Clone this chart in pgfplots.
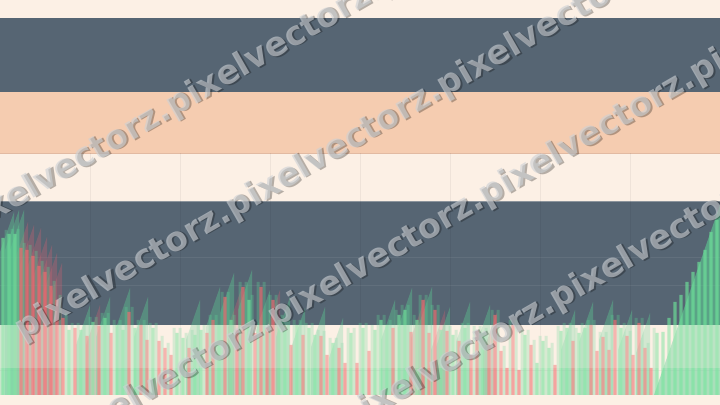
\documentclass[border=0pt]{standalone}
\usepackage{pgfplots}
\pgfplotsset{compat=1.18}
\usepackage{fontspec}
\newfontfamily\wmfont{DejaVu Sans}
\definecolor{cream}{HTML}{FCF0E5}
\definecolor{slate}{HTML}{566573}
\definecolor{peach}{HTML}{F5CCB0}
\definecolor{peachline}{HTML}{E2BAA2}
\definecolor{slateline}{HTML}{8C949C}
\definecolor{gbar}{HTML}{6EE39A}
\definecolor{rbar}{HTML}{F07070}
\definecolor{gspk}{HTML}{5ED195}
\definecolor{rspk}{HTML}{D06070}
\definecolor{wmc}{HTML}{CDD1D5}
\newcommand\wmtext{pixelvectorz.pixelvectorz.pixelvectorz.pixelvectorz.pixelvectorz.}
\newcommand\wmline[2]{%
  \node[rotate=30, anchor=west, inner sep=0pt, text=black, text opacity=0.28, xshift=1.6bp, yshift=-1.6bp]
    at (axis cs:#1,#2) {\wmfont\bfseries\fontsize{33.5bp}{36bp}\selectfont\wmtext};
  \node[rotate=30, anchor=west, inner sep=0pt, text=wmc, text opacity=0.62]
    at (axis cs:#1,#2) {\wmfont\bfseries\fontsize{33.5bp}{36bp}\selectfont\wmtext};
}
\begin{document}
\begin{tikzpicture}
\begin{axis}[width=720bp, height=405bp, scale only axis,
  xmin=0, xmax=720, ymin=-10, ymax=395, hide axis, clip=true]
% background bands
\addplot[fill=cream, draw=none] coordinates {(0,-10) (720,-10) (720,395) (0,395)} -- cycle;
\addplot[fill=slate, draw=none] coordinates {(0,303) (720,303) (720,377) (0,377)} -- cycle;
\addplot[fill=peach, draw=none] coordinates {(0,242) (720,242) (720,303) (0,303)} -- cycle;
\addplot[color=peachline, line width=0.8bp] coordinates {(0,242) (720,242)};
\addplot[fill=slate, draw=none] coordinates {(0,70) (720,70) (720,193) (0,193)} -- cycle;
\addplot[color=slateline, line width=1bp] coordinates {(0,193) (720,193)};
% faint grid
\addplot[color=white, opacity=0.07, line width=0.8bp] coordinates {(0,138) (720,138)};
\addplot[color=white, opacity=0.07, line width=0.8bp] coordinates {(0,110) (720,110)};
\addplot[color=black, opacity=0.05, line width=0.8bp] coordinates {(0,25) (720,25)};
\addplot[color=black, opacity=0.05, line width=0.8bp] coordinates {(90,0) (90,242)};
\addplot[color=black, opacity=0.05, line width=0.8bp] coordinates {(180,0) (180,242)};
\addplot[color=black, opacity=0.05, line width=0.8bp] coordinates {(270,0) (270,242)};
\addplot[color=black, opacity=0.05, line width=0.8bp] coordinates {(360,0) (360,242)};
\addplot[color=black, opacity=0.05, line width=0.8bp] coordinates {(450,0) (450,242)};
\addplot[color=black, opacity=0.05, line width=0.8bp] coordinates {(540,0) (540,242)};
\addplot[color=black, opacity=0.05, line width=0.8bp] coordinates {(630,0) (630,242)};
% red translucent spikes
\pgfplotsset{rs/.style={fill=rspk, fill opacity=0.32, draw=none}, gs/.style={fill=gspk, fill opacity=0.37, draw=none}}
\addplot[rs] coordinates {(14,0)(14,133)(28,173)(28,0)} -- cycle;
\addplot[rs] coordinates {(20,0)(20,130)(34,170)(34,0)} -- cycle;
\addplot[rs] coordinates {(27,0)(27,127)(41,167)(41,0)} -- cycle;
\addplot[rs] coordinates {(33,0)(33,118)(47,158)(47,0)} -- cycle;
\addplot[rs] coordinates {(38,0)(38,110)(52,150)(52,0)} -- cycle;
\addplot[rs] coordinates {(43,0)(43,102)(57,142)(57,0)} -- cycle;
\addplot[rs] coordinates {(48,0)(48,92)(62,132)(62,0)} -- cycle;
\addplot[rs] coordinates {(86,0)(86,50)(100,90)(100,0)} -- cycle;
\addplot[rs] coordinates {(228,0)(228,68)(242,108)(242,0)} -- cycle;
\addplot[rs] coordinates {(266,0)(266,65)(280,105)(280,0)} -- cycle;
\addplot[rs] coordinates {(411,0)(411,57)(425,97)(425,0)} -- cycle;
\addplot[rs] coordinates {(431,0)(431,45)(445,85)(445,0)} -- cycle;
\addplot[rs] coordinates {(483,0)(483,43)(497,83)(497,0)} -- cycle;
% green translucent spikes
\addplot[gs] coordinates {(0,0)(0,143)(14,183)(14,0)} -- cycle;
\addplot[gs] coordinates {(5,0)(5,145)(19,185)(19,0)} -- cycle;
\addplot[gs] coordinates {(10,0)(10,145)(24,185)(24,0)} -- cycle;
\addplot[gs] coordinates {(76,0)(76,50)(90,90)(90,0)} -- cycle;
\addplot[gs] coordinates {(96,0)(96,58)(110,98)(110,0)} -- cycle;
\addplot[gs] coordinates {(116,0)(116,67)(130,107)(130,0)} -- cycle;
\addplot[gs] coordinates {(134,0)(134,58)(148,98)(148,0)} -- cycle;
\addplot[gs] coordinates {(186,0)(186,55)(200,95)(200,0)} -- cycle;
\addplot[gs] coordinates {(206,0)(206,68)(220,108)(220,0)} -- cycle;
\addplot[gs] coordinates {(220,0)(220,82)(234,122)(234,0)} -- cycle;
\addplot[gs] coordinates {(238,0)(238,85)(252,125)(252,0)} -- cycle;
\addplot[gs] coordinates {(256,0)(256,65)(270,105)(270,0)} -- cycle;
\addplot[gs] coordinates {(276,0)(276,58)(290,98)(290,0)} -- cycle;
\addplot[gs] coordinates {(291,0)(291,47)(305,87)(305,0)} -- cycle;
\addplot[gs] coordinates {(311,0)(311,48)(325,88)(325,0)} -- cycle;
\addplot[gs] coordinates {(329,0)(329,37)(343,77)(343,0)} -- cycle;
\addplot[gs] coordinates {(381,0)(381,55)(395,95)(395,0)} -- cycle;
\addplot[gs] coordinates {(398,0)(398,67)(412,107)(412,0)} -- cycle;
\addplot[gs] coordinates {(418,0)(418,68)(432,108)(432,0)} -- cycle;
\addplot[gs] coordinates {(436,0)(436,48)(450,88)(450,0)} -- cycle;
\addplot[gs] coordinates {(456,0)(456,53)(470,93)(470,0)} -- cycle;
\addplot[gs] coordinates {(476,0)(476,50)(490,90)(490,0)} -- cycle;
\addplot[gs] coordinates {(561,0)(561,45)(575,85)(575,0)} -- cycle;
\addplot[gs] coordinates {(579,0)(579,53)(593,93)(593,0)} -- cycle;
\addplot[gs] coordinates {(599,0)(599,55)(613,95)(613,0)} -- cycle;
\addplot[gs] coordinates {(618,0)(618,45)(632,85)(632,0)} -- cycle;
\addplot[gs] coordinates {(636,0)(636,42)(650,82)(650,0)} -- cycle;
\addplot[fill=gspk, fill opacity=0.58, draw=none] coordinates {(654,0)(720,190)(720,0)} -- cycle;
% pale in-between bars
\addplot[ybar, bar width=3, bar shift=0pt, fill=gspk, draw=none, fill opacity=0.32] coordinates {
(6,165)(12,166)(18,166)(24,152)(30,150)(36,144)(42,134)(48,128)(54,114)(60,100)
(66,82)(72,72)(78,72)(84,70)(90,78)(96,78)(102,82)(108,82)(114,75)(120,75)
(126,88)(132,88)(138,75)(144,75)(150,72)(156,72)(162,59)(168,52)(174,67)(180,67)
(186,62)(192,65)(198,70)(204,70)(210,80)(216,80)(222,103)(228,103)(234,80)(240,113)
(246,113)(252,100)(258,113)(264,113)(270,100)(276,100)(282,80)(288,70)(294,75)(300,75)
(306,72)(312,72)(318,65)(324,64)(330,57)(336,57)(342,52)(348,67)(354,67)(360,72)
(366,72)(372,70)(378,80)(384,80)(390,75)(396,85)(402,90)(408,90)(414,80)(420,100)
(426,100)(432,90)(438,90)(444,70)(450,69)(456,65)(462,72)(468,72)(474,69)(480,69)
(486,67)(492,85)(498,85)(504,49)(510,75)(516,75)(522,65)(528,65)(534,55)(540,59)
(546,59)(552,52)(558,69)(564,72)(570,72)(576,67)(582,72)(588,75)(594,75)(600,63)
(606,63)(612,80)(618,80)(624,72)(630,64)(636,77)(642,77)(648,52)(654,67)};
% bars
\addplot[ybar, bar width=3.2, bar shift=0pt, fill=gbar, draw=none, fill opacity=0.65] coordinates {
(3,157)(9,161)(15,161)(69,65)(81,65)(93,73)(105,77)(117,70)(123,65)(135,67)
(153,67)(177,62)(183,57)(195,60)(201,65)(219,70)(231,75)(249,95)(279,75)(285,65)
(297,70)(309,67)(315,60)(333,52)(351,62)(363,67)(375,65)(381,75)(387,70)(399,80)
(405,85)(417,75)(441,65)(453,60)(465,67)(483,62)(525,60)(537,32)(543,54)(549,47)
(561,64)(567,67)(579,62)(585,67)(621,67)(657,62)(663,63)(669,77)(675,93)(681,100)
(687,113)(693,123)(699,133)(705,145)(711,163)(717,175)};
\addplot[ybar, bar width=3.2, bar shift=0pt, fill=rbar, draw=none, fill opacity=0.65] coordinates {
(21,147)(27,145)(33,139)(39,129)(45,123)(51,109)(57,95)(63,77)(75,67)(87,59)
(99,69)(111,62)(129,83)(141,70)(147,55)(159,54)(165,47)(171,40)(189,47)(207,62)
(213,75)(225,98)(237,65)(243,108)(255,62)(261,108)(267,67)(273,95)(291,50)(303,60)
(321,59)(327,40)(339,47)(345,32)(357,32)(369,44)(393,67)(411,63)(423,95)(429,62)
(435,85)(447,64)(459,54)(471,40)(477,64)(489,50)(495,80)(501,44)(507,27)(513,70)
(519,25)(531,50)(555,30)(573,54)(591,70)(597,44)(603,58)(609,45)(615,75)(627,59)
(633,40)(639,72)(645,47)(651,27)};
% pale overlay of the lower light band
\addplot[fill=cream, fill opacity=0.3, draw=none] coordinates {(0,27) (720,27) (720,70) (0,70)} -- cycle;
\addplot[fill=cream, fill opacity=0.1, draw=none] coordinates {(0,0) (720,0) (720,27) (0,27)} -- cycle;
% watermark
\wmline{-42}{164}
\wmline{18}{62}
\wmline{60}{-47}
\wmline{342}{-29}
\end{axis}
\pgfresetboundingbox
\path[use as bounding box] (0,0) rectangle (720bp,405bp);
\end{tikzpicture}
\end{document}
